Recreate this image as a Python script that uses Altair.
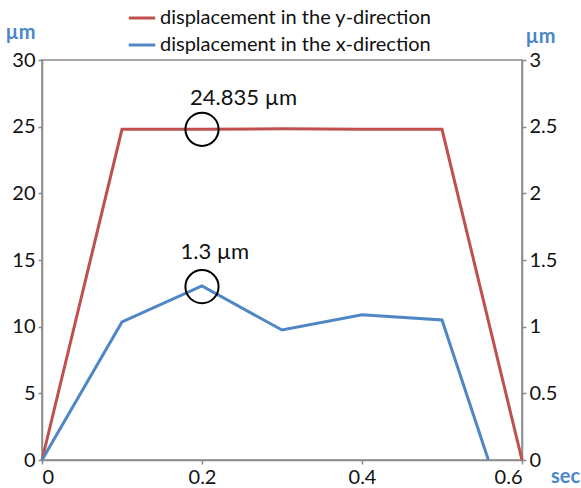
import altair as alt
import pandas as pd

# data
t_values = [0.0, 0.1, 0.2, 0.3, 0.4, 0.5, 0.6]
y_disp = [0.0, 24.8, 24.8, 24.85, 24.8, 24.8, 0.0]
t_values_x = [0.0, 0.1, 0.2, 0.3, 0.4, 0.5, 0.558]
x_disp = [0.0, 1.035, 1.305, 0.975, 1.09, 1.05, 0.0]

series_names = ["displacement in the y-direction", "displacement in the x-direction"]
series_colors = ["#C0504D", "#4F86C6"]

circle_y = {"t": [0.2], "v": [24.8]}
label_y = {"t": [0.252], "v": [27.15], "text": ["24.835 \u00b5m"]}
circle_x = {"t": [0.2], "v": [1.3]}
label_x = {"t": [0.216], "v": [1.56], "text": ["1.3 \u00b5m"]}

x_ticks = [0, 0.2, 0.4, 0.6]
left_ticks = [0, 5, 10, 15, 20, 25, 30]
right_ticks = [0, 0.5, 1, 1.5, 2, 2.5, 3]

FONT = "Lato"
FS = 20
AXIS_BLUE = "#4A86C8"

df_y = pd.DataFrame({"t": t_values, "v": y_disp, "series": series_names[0]})
df_x = pd.DataFrame({"t": t_values_x, "v": x_disp, "series": series_names[1]})

x_scale = alt.Scale(domain=[0, 0.6], nice=False, zero=False)
color = alt.Color(
    "series:N",
    scale=alt.Scale(domain=series_names, range=series_colors),
    sort=series_names,
    legend=alt.Legend(
        title=None,
        orient="none",
        legendX=85,
        legendY=-57,
        symbolType="stroke",
        symbolStrokeWidth=3,
        symbolSize=700,
        labelFontSize=FS,
        labelFont=FONT,
        labelColor="#111",
        labelOffset=3,
        labelLimit=0,
        rowPadding=2,
        padding=0,
    ),
)

def make_x_axis():
    return alt.Axis(
        values=x_ticks,
        format="~g",
        title="sec",
        titleAngle=0,
        titleX=523,
        titleY=16,
        titleAlign="center",
        titleBaseline="middle",
        titleColor=AXIS_BLUE,
        titleFontSize=FS,
        titleFontWeight="bold",
        grid=False,
    )

left_axis = alt.Axis(
    orient="left",
    values=left_ticks,
    format="~g",
    title="\u00b5m",
    titleAngle=0,
    titleX=-22,
    titleY=-28,
    titleAlign="center",
    titleBaseline="middle",
    titleColor=AXIS_BLUE,
    titleFontSize=FS,
    titleFontWeight="bold",
    grid=False,
)

right_axis = alt.Axis(
    orient="right",
    values=right_ticks,
    format="~g",
    title="\u00b5m",
    titleAngle=0,
    titleX=18,
    titleY=-24,
    titleAlign="center",
    titleBaseline="middle",
    titleColor=AXIS_BLUE,
    titleFontSize=FS,
    titleFontWeight="bold",
    grid=False,
)

yl_scale = alt.Scale(domain=[0, 30], nice=False)
yr_scale = alt.Scale(domain=[0, 3], nice=False)

circle_kw = dict(shape="circle", size=1100, filled=False, stroke="black", strokeWidth=2, opacity=1)
text_kw = dict(fontSize=22, font=FONT, color="#111", align="center", baseline="middle")

left_layer = alt.layer(
    alt.Chart(df_y).mark_line(strokeWidth=3).encode(color=color),
    alt.Chart(pd.DataFrame(circle_y)).mark_point(**circle_kw),
    alt.Chart(pd.DataFrame(label_y)).mark_text(**text_kw).encode(text="text:N"),
).encode(
    x=alt.X("t:Q", scale=x_scale, axis=make_x_axis()),
    y=alt.Y("v:Q", scale=yl_scale, axis=left_axis),
)

right_layer = alt.layer(
    alt.Chart(df_x).mark_line(strokeWidth=3).encode(color=color),
    alt.Chart(pd.DataFrame(circle_x)).mark_point(**circle_kw),
    alt.Chart(pd.DataFrame(label_x)).mark_text(**text_kw).encode(text="text:N"),
).encode(
    x=alt.X("t:Q", scale=x_scale, axis=make_x_axis()),
    y=alt.Y("v:Q", scale=yr_scale, axis=right_axis),
)

chart = (
    alt.layer(left_layer, right_layer)
    .resolve_scale(y="independent")
    .properties(
        width=480,
        height=400,
        autosize=alt.AutoSizeParams(type="none"),
        padding={"left": 42, "top": 60, "right": 59, "bottom": 28},
        background="white",
    )
    .configure_view(stroke="#8a8a8a", strokeWidth=1.5)
    .configure_axis(
        domainColor="#8a8a8a",
        domainWidth=1.5,
        tickColor="#8a8a8a",
        tickSize=4,
        tickWidth=1.5,
        labelFont=FONT,
        labelFontSize=FS,
        labelColor="#111",
        labelPadding=3,
        titleFont=FONT,
    )
)

chart.save("out.html", embed_options={"renderer": "svg", "actions": False})
